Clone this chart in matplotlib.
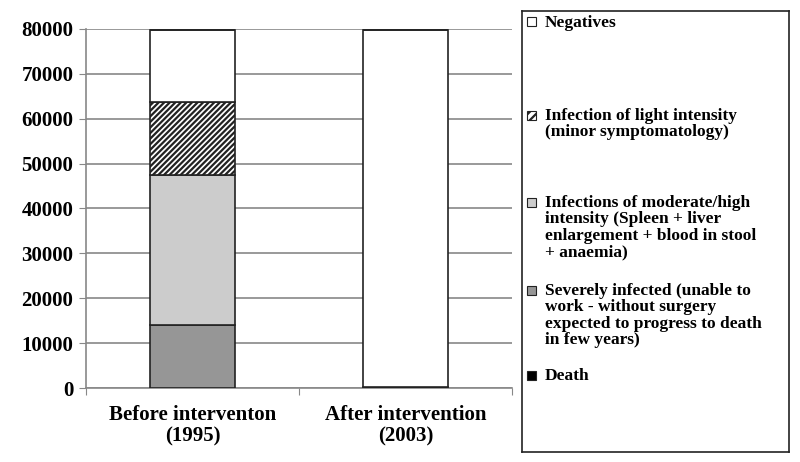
import matplotlib
matplotlib.use("Agg")
import matplotlib.pyplot as plt
import numpy as np

plt.rcParams['font.family'] = ['Liberation Serif', 'DejaVu Serif']
plt.rcParams['font.weight'] = 'bold'
plt.rcParams['hatch.linewidth'] = 1.6

# === DATA ===
categories = ['Before interventon\n(1995)', 'After intervention\n(2003)']
severe = [14000, 0]
moderate = [33500, 0]
light = [16300, 300]
negatives = [16000, 79400]
death = [0, 0]

series = [
    ('Severely infected (unable to\nwork - without surgery\nexpected to progress to death\nin few years)', severe, '#969696', None),
    ('Infections of moderate/high\nintensity (Spleen + liver\nenlargement + blood in stool\n+ anaemia)', moderate, '#cccccc', None),
    ('Infection of light intensity\n(minor symptomatology)', light, 'white', '//////'),
    ('Negatives', negatives, 'white', None),
    ('Death', death, 'black', None),
]

fig = plt.figure(figsize=(8, 4.62), dpi=100)
ax = fig.add_axes([86/800, 1 - 388/462, (512-86)/800, (388-29)/462])

x = np.arange(len(categories))
bottom = np.zeros(len(categories))
for label, vals, color, hatch in series:
    ax.bar(x, vals, 0.4, bottom=bottom, color=color, edgecolor='#222222',
           linewidth=1.2, hatch=hatch, zorder=3)
    bottom += np.array(vals)

ax.set_xlim(-0.5, 1.5)
ax.set_ylim(0, 80000)
ax.set_yticks(range(0, 80001, 10000))
ax.yaxis.grid(True, color='#888888', linewidth=1.2, zorder=0)
ax.set_xticks([-0.5, 0.5, 1.5], minor=False)
ax.set_xticklabels([])
ax.set_xticks(x, minor=True)
ax.set_xticklabels(categories, minor=True, fontsize=15, fontweight='bold', linespacing=1.15)
ax.tick_params(axis='x', which='minor', length=0, pad=12)
ax.tick_params(axis='x', which='major', length=5, color='#888888', direction='out')
ax.tick_params(axis='y', length=5, color='#888888', labelsize=15, pad=4)
for t in ax.get_yticklabels():
    t.set_fontweight('bold')
for s in ['top', 'right']:
    ax.spines[s].set_visible(False)
for s in ['left', 'bottom']:
    ax.spines[s].set_color('#888888')
    ax.spines[s].set_linewidth(1.2)

# === LEGEND BOX ===
lax = fig.add_axes([522/800, 1 - 452/462, (789-522)/800, (452-11)/462])
lax.set_xlim(0, 267)
lax.set_ylim(441, 0)
lax.set_xticks([])
lax.set_yticks([])
for s in lax.spines.values():
    s.set_linewidth(1.2)
    s.set_color('#222222')

legend_y = [11, 104, 191, 279, 364]
for (label, vals, color, hatch), ly in zip(
        [series[3], series[2], series[1], series[0], series[4]], legend_y):
    lax.add_patch(plt.Rectangle((5, ly - 4.5), 9, 9, facecolor=color,
                                edgecolor='#222222', linewidth=0.8, hatch=hatch and '////'))
    lax.text(23, ly - 7, label, fontsize=12.5, fontweight='bold', va='top',
             ha='left', linespacing=1.03)

fig.savefig('out.png', dpi=100)
